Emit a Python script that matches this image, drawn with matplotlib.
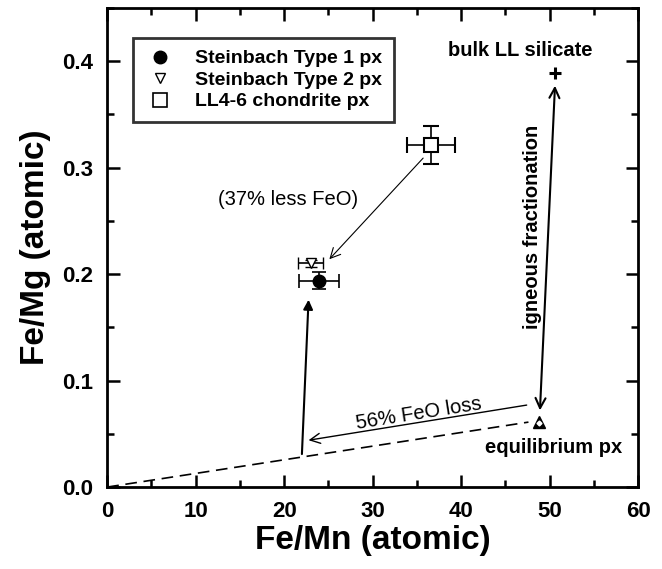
import numpy as np
import matplotlib.pyplot as plt
from matplotlib.ticker import MultipleLocator
from matplotlib.lines import Line2D

plt.rcParams['font.family'] = ['Liberation Sans', 'DejaVu Sans']

# pyroxene compositions (Fe/Mn, Fe/Mg atomic) with 1-sigma errors
type1_x, type1_y = 23.95, 0.194
type1_xerr, type1_yerr = 2.25, 0.008
type2_x, type2_y = 23.0, 0.210
type2_xerr, type2_yerr = 1.4, 0.003
ll_x, ll_y = 36.6, 0.321
ll_xerr, ll_yerr = 2.75, 0.018

bulk_x, bulk_y = 50.6, 0.389      # bulk LL silicate
eq_x, eq_y = 48.8, 0.061          # equilibrium px

# FeO-loss trend line
trend_x = [0.0, 47.6]
trend_y = [0.0, 0.061]

labels = ['Steinbach Type 1 px', 'Steinbach Type 2 px', 'LL4-6 chondrite px']

fig = plt.figure(figsize=(6.62, 5.69), dpi=100)
ax = fig.add_axes([0.162, 0.144, 0.802, 0.842])

ax.plot(trend_x, trend_y, color='black', lw=1.2, dashes=(7, 4))

ax.errorbar(type1_x, type1_y, xerr=type1_xerr, yerr=type1_yerr, fmt='o',
            color='black', ms=9, capsize=5, elinewidth=1.2, capthick=1.2, zorder=5)
ax.errorbar(type2_x, type2_y, xerr=type2_xerr, yerr=type2_yerr, fmt='v',
            mfc='white', mec='black', ecolor='black', ms=7, mew=1.0,
            capsize=4, elinewidth=1.2, capthick=1.2, zorder=5)
ax.errorbar(ll_x, ll_y, xerr=ll_xerr, yerr=ll_yerr, fmt='s',
            mfc='white', mec='black', ecolor='black', ms=10, mew=1.5,
            capsize=6, elinewidth=1.2, capthick=1.2, zorder=5)

ax.plot(bulk_x, bulk_y, marker='+', color='black', ms=8, mew=2.2, ls='none')
ax.plot(eq_x, eq_y, marker='^', color='black', ms=9, ls='none', zorder=6)
ax.plot(eq_x, eq_y - 0.001, marker='D', color='white', ms=2.5, ls='none', zorder=7)

# arrows
ax.annotate('', xy=(type2_x + 2.1, type2_y + 0.004), xytext=(ll_x - 0.9, ll_y - 0.012),
            arrowprops=dict(arrowstyle='->', lw=0.8, color='black',
                            mutation_scale=18, shrinkA=0, shrinkB=0))
ax.annotate('', xy=(22.75, 0.176), xytext=(22.0, 0.031),
            arrowprops=dict(arrowstyle='-|>', lw=1.5, color='black',
                            mutation_scale=14, shrinkA=0, shrinkB=0))
ax.annotate('', xy=(22.75, 0.044), xytext=(47.4, 0.077),
            arrowprops=dict(arrowstyle='->', lw=1.0, color='black',
                            mutation_scale=18, shrinkA=0, shrinkB=0))
ax.annotate('', xy=(bulk_x, 0.377), xytext=(eq_x + 0.1, 0.072),
            arrowprops=dict(arrowstyle='<->', lw=1.5, color='black',
                            mutation_scale=18, shrinkA=0, shrinkB=0))

# annotations
ax.text(20.4, 0.270, '(37% less FeO)', fontsize=14.5, ha='center', va='center')
ax.text(35.2, 0.069, '56% FeO loss', fontsize=14.5, ha='center', va='center',
        rotation=9, rotation_mode='anchor')
ax.text(46.7, 0.410, 'bulk LL silicate', fontsize=14.5, fontweight='bold',
        ha='center', va='center')
ax.text(50.4, 0.037, 'equilibrium px', fontsize=14.5, fontweight='bold',
        ha='center', va='center')
ax.text(48.1, 0.244, 'igneous fractionation', fontsize=14.5, fontweight='bold',
        ha='center', va='center', rotation=90)

ax.set_xlim(0, 60)
ax.set_ylim(0, 0.45)
ax.xaxis.set_major_locator(MultipleLocator(10))
ax.xaxis.set_minor_locator(MultipleLocator(5))
ax.yaxis.set_major_locator(MultipleLocator(0.1))
ax.yaxis.set_minor_locator(MultipleLocator(0.05))
ax.yaxis.set_major_formatter(plt.FormatStrFormatter('%.1f'))

ax.tick_params(which='both', direction='in', top=True, right=True, width=1.8)
ax.tick_params(which='major', length=9, pad=10, labelsize=16)
ax.tick_params(which='minor', length=5)
for lab in ax.get_xticklabels() + ax.get_yticklabels():
    lab.set_fontweight('bold')
for sp in ax.spines.values():
    sp.set_linewidth(2.0)

ax.set_xlabel('Fe/Mn (atomic)', fontsize=24, fontweight='bold', labelpad=2)
ax.set_ylabel('Fe/Mg (atomic)', fontsize=24, fontweight='bold', labelpad=8)

# legend shows the symbols only, without error bars
handles = [
    Line2D([], [], marker='o', color='black', ms=9, ls='none'),
    Line2D([], [], marker='v', mfc='white', mec='black', ms=7, mew=1.0, ls='none'),
    Line2D([], [], marker='s', mfc='white', mec='black', ms=10, mew=1.2, ls='none'),
]
leg = ax.legend(handles, labels, loc='upper left', bbox_to_anchor=(0.049, 0.937),
                borderaxespad=0, prop={'weight': 'bold', 'size': 14},
                frameon=True, fancybox=False, edgecolor='black',
                handletextpad=1.1, handlelength=1.5, labelspacing=0.2,
                borderpad=0.6)
leg.get_frame().set_linewidth(2.0)

fig.savefig('out.png', dpi=100)
